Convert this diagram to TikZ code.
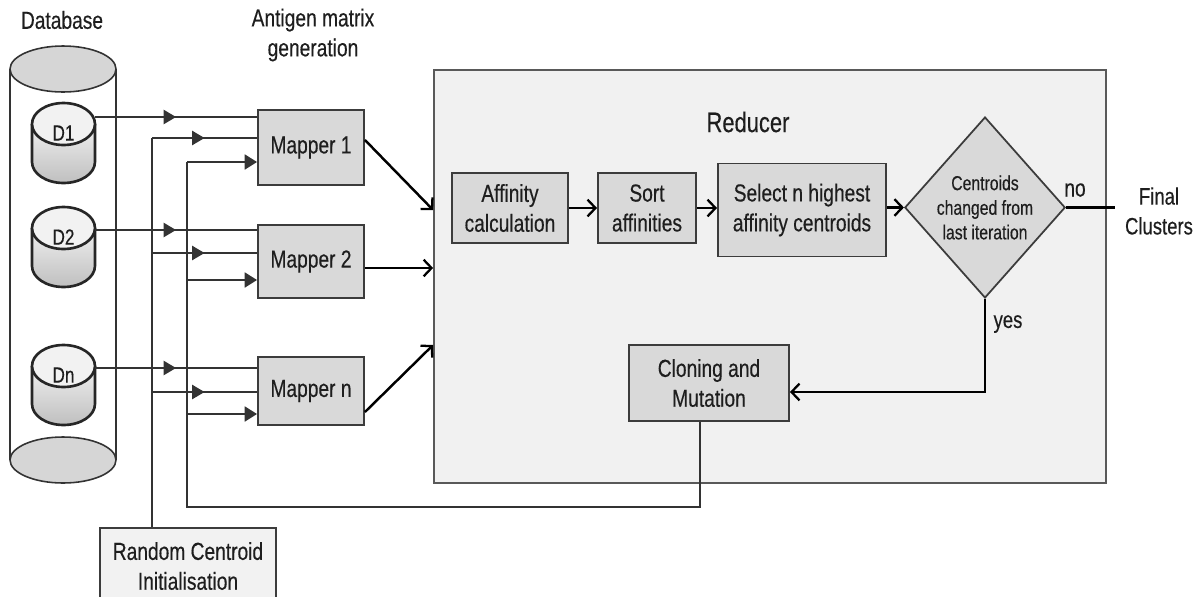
\documentclass[tikz,border=0pt]{standalone}
\usepackage{fontspec}
\setmainfont[FakeStretch=0.78,FakeBold=0.35]{Liberation Sans}
\usetikzlibrary{arrows.meta,decorations.markings,shapes.geometric}

\definecolor{boxfill}{HTML}{D9D9D9}
\definecolor{boxline}{HTML}{3C3C3C}
\definecolor{redfill}{HTML}{F1F1F1}
\definecolor{dbfill}{HTML}{D6D6D6}
\definecolor{txt}{HTML}{1E1E1E}

% small database cylinder: centre x, top y, label name, label text
\newcommand\smallcyl[4]{%
  \fill[top color=gray!12,bottom color=gray!50]
    (#1-31.5,#2+21) -- (#1-31.5,#2+59)
    arc[start angle=180,end angle=360,x radius=0.63cm,y radius=0.42cm]
    -- (#1+31.5,#2+21) -- cycle;
  \draw[line width=1.5pt,black!85]
    (#1-31.5,#2+21) -- (#1-31.5,#2+59)
    arc[start angle=180,end angle=360,x radius=0.63cm,y radius=0.42cm]
    -- (#1+31.5,#2+21);
  \draw[line width=1.5pt,black!85,fill=gray!10]
    (#1,#2+21) ellipse[x radius=0.63cm,y radius=0.42cm];
  \node[font=\fontsize{12.5pt}{14pt}\selectfont,text=txt] (#3) at (#1,#2+30) {#4};
}

\begin{document}
\begin{tikzpicture}[x=0.02cm,y=-0.02cm,
  lbl/.style={font=\fontsize{14pt}{17pt}\selectfont,text=txt,align=center},
  procbox/.style={draw=boxline,line width=1.1pt,fill=boxfill,inner sep=0pt,
    font=\fontsize{14pt}{17pt}\selectfont,text=txt,align=center},
  conn/.style={draw=black!80,line width=1.1pt},
  flow/.style={draw=black,line width=1.4pt,
    -{Straight Barb[length=4.5pt,width=9.5pt,line width=1.3pt]}},
  midtri/.style={postaction={decorate},decoration={markings,
    mark=at position 0.5 with {\arrow{Triangle[length=7pt,width=8pt]}}}},
  endtri/.style={-{Triangle[length=7pt,width=8.5pt]}}]

\useasboundingbox (0,0) rectangle (1201,596);

% reducer region
\node[draw=black!65,line width=1.1pt,fill=redfill,minimum width=13.44cm,
  minimum height=8.26cm,inner sep=0pt] (red) at (770,276.5) {};
\node[font=\fontsize{16pt}{19pt}\selectfont,text=txt] (redlbl) at (748,122) {Reducer};

% database cylinder
\node[lbl] (dblbl) at (62,20) {Database};
\draw[line width=0.9pt,black!80] (10,69) -- (10,460) (116,69) -- (116,460);
\draw[line width=0.9pt,black!80,fill=dbfill] (63,69) ellipse[x radius=1.06cm,y radius=0.46cm];
\draw[line width=0.9pt,black!80,fill=dbfill] (63,460) ellipse[x radius=1.06cm,y radius=0.46cm];

\smallcyl{63.5}{103}{d1}{D1}
\smallcyl{63.5}{207}{d2}{D2}
\smallcyl{63.5}{345}{dn}{Dn}
\coordinate (d1o) at (95,117);
\coordinate (d2o) at (95,230);
\coordinate (dno) at (95,368);

% mappers
\node[lbl] (amg) at (313,35) {Antigen matrix\\generation};
\node[procbox,minimum width=2.12cm,minimum height=1.5cm] (m1) at (311,147.5) {Mapper 1};
\node[procbox,minimum width=2.12cm,minimum height=1.46cm] (m2) at (311,261.5) {Mapper 2};
\node[procbox,minimum width=2.12cm,minimum height=1.36cm] (mn) at (311,391) {Mapper n};

% random centroid initialisation
\node[procbox,fill=gray!10,minimum width=3.52cm,minimum height=1.52cm] (rand) at (188,566)
  {Random Centroid\\Initialisation};

% data partitions into mappers
\draw[conn,midtri] (d1o) -- (d1o -| m1.west);
\draw[conn,midtri] (d2o) -- (d2o -| m2.west);
\draw[conn,midtri] (dno) -- (dno -| mn.west);

% initial centroids bus
\coordinate (a1) at (152,138);
\coordinate (a2) at (152,253);
\coordinate (a3) at (152,392);
\draw[conn] (a1 |- rand.north) -- (a1);
\draw[conn,midtri] (a1) -- (a1 -| m1.west);
\draw[conn,midtri] (a2) -- (a2 -| m2.west);
\draw[conn,midtri] (a3) -- (a3 -| mn.west);

% reducer steps
\node[procbox,minimum width=2.32cm,minimum height=1.4cm] (aff) at (510,208) {Affinity\\calculation};
\node[procbox,minimum width=1.96cm,minimum height=1.4cm] (sort) at (647,208) {Sort\\affinities};
\node[procbox,minimum width=3.36cm,minimum height=1.86cm] (sel) at (802,210) {Select n highest\\affinity centroids};
\node[diamond,draw=boxline,line width=1pt,fill=boxfill,minimum width=2.72cm,
  minimum height=3.62cm,inner sep=0pt,align=center,text=txt,
  font=\fontsize{11.5pt}{14pt}\selectfont] (dia) at (985,207.5)
  {Centroids\\changed from\\last iteration};
\node[procbox,minimum width=3.2cm,minimum height=1.52cm] (clo) at (709,383) {Cloning and\\Mutation};

\draw[flow] (aff.east) -- (sort.west);
\draw[flow] (sort.east) -- (sort.east -| sel.west);
\draw[flow] (dia.west -| sel.east) -- (dia.west);

% decision outcomes
\coordinate (fin) at (1115,207.5);
\draw[draw=black,line width=1.4pt] (dia.east) -- (fin);
\node[lbl,font=\fontsize{14pt}{17pt}\selectfont] (no) at (1075,190) {no};
\node[lbl,font=\fontsize{13.5pt}{17pt}\selectfont] (final) at (1159,211) {Final\\Clusters};
\coordinate (yc) at (985,392);
\draw[flow] (dia.south) -- (yc) -- (yc -| clo.east);
\node[lbl,font=\fontsize{13.5pt}{17pt}\selectfont] (yes) at (1008,324) {yes};

% mapper outputs to reducer
\draw[flow] (m1.east |- 0,140) -- (red.west |- 0,210);
\draw[flow] (m2.east |- 0,268) -- (red.west |- 0,268);
\draw[flow] (mn.east |- 0,412) -- (red.west |- 0,345);

% feedback of mutated centroids to the mappers
\coordinate (cb) at (700,507);
\coordinate (bb) at (187,507);
\coordinate (b1) at (187,162);
\coordinate (b2) at (187,280);
\coordinate (b3) at (187,414);
\draw[conn] (cb |- clo.south) -- (cb) -- (bb) -- (b1);
\draw[conn,endtri] (b1) -- (b1 -| m1.west);
\draw[conn,endtri] (b2) -- (b2 -| m2.west);
\draw[conn,endtri] (b3) -- (b3 -| mn.west);

\end{tikzpicture}
\end{document}
